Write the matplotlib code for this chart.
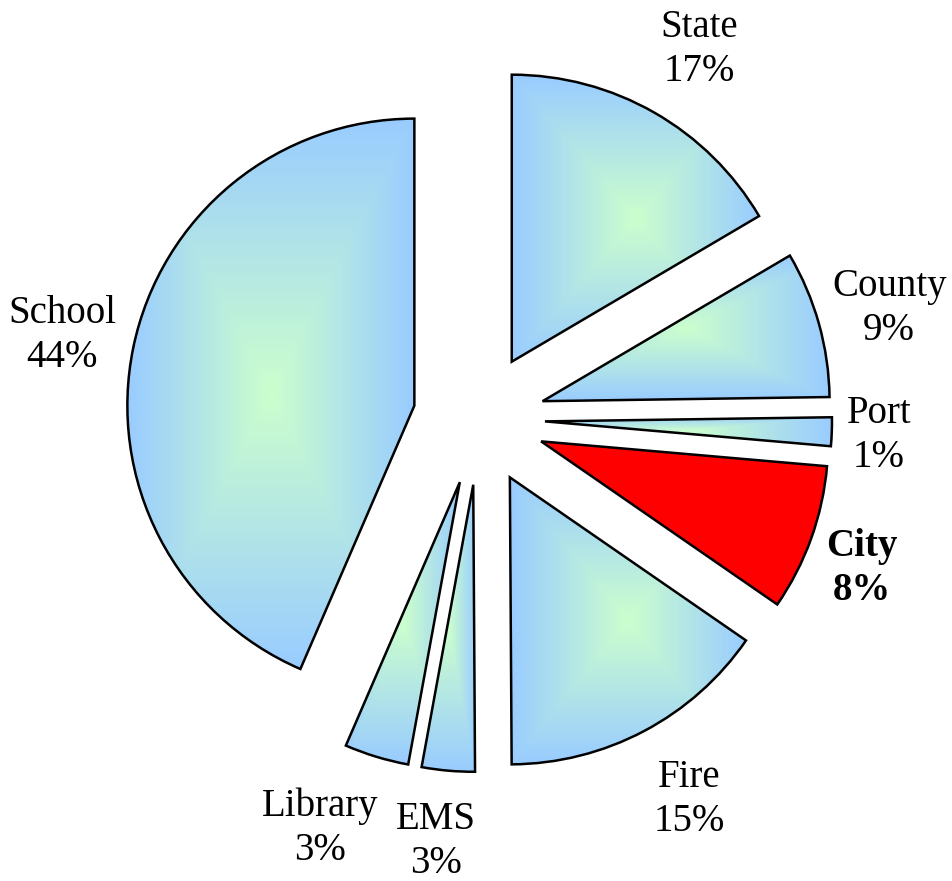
import numpy as np
import matplotlib
matplotlib.use("Agg")
import matplotlib.pyplot as plt
from matplotlib.colors import to_rgb

# ---- data ----
categories = ["State", "County", "Port", "City", "Fire", "EMS", "Library", "School"]
values = [16.53, 8.24, 1.61, 8.24, 15.28, 2.98, 3.62, 43.50]   # drawn slice shares
pct_labels = [17, 9, 1, 8, 15, 3, 3, 44]                         # printed percentages
highlight = "City"

# ---- layout / style ----
W, H = 953, 881
label_dist = [1.50, 1.48, 1.395, 1.43, 1.515, 1.48, 1.53, 1.48]
label_shift_deg = [-1.0, -0.6, -0.3, -1.5, 1.0, -0.8, -4.3, 0.4]
edge_blue = np.array(to_rgb("#99CCFF"))
center_green = np.array(to_rgb("#CCFFCC"))

fig = plt.figure(figsize=(W / 100, H / 100), dpi=100)
ax = fig.add_axes([0, 0, 1, 1])

R = 287
cx, cy = 479, H - 419
explode_frac = 0.23
wedges, _ = ax.pie(values, radius=R, center=(cx, cy), startangle=90,
                   counterclock=False,
                   explode=[explode_frac * R] * len(values),
                   wedgeprops=dict(edgecolor="black", linewidth=1.8),
                   frame=False)

total = sum(values)
cum = 0.0
for w, cat, v, p, ld, sh in zip(wedges, categories, values, pct_labels,
                                label_dist, label_shift_deg):
    w.set_zorder(3)
    if cat == highlight:
        w.set_facecolor("#FF0000")
    else:
        w.set_facecolor("none")
        ext = w.get_path().get_extents()
        n = 300
        u = np.linspace(-1, 1, n)
        U, V = np.meshgrid(u, u)
        t = np.maximum(np.abs(U), np.abs(V))[..., None]
        img = center_green * (1 - t) + edge_blue * t
        im = ax.imshow(img, extent=[ext.x0, ext.x1, ext.y0, ext.y1],
                       origin="lower", interpolation="bilinear", zorder=2)
        im.set_clip_path(w)
    theta = np.deg2rad(90 - (cum + v / 2) / total * 360 + sh)
    cum += v
    tx = cx + ld * R * np.cos(theta)
    ty = cy + ld * R * np.sin(theta)
    ax.text(tx, ty, f"{cat}\n{p}%", ha="center", va="center",
            fontsize=28, family="Liberation Serif", linespacing=1.25,
            fontweight="bold" if cat == highlight else "normal", zorder=5)

ax.set_xlim(0, W)
ax.set_ylim(0, H)
ax.set_aspect("equal")
ax.axis("off")
fig.savefig("out.png", dpi=100, facecolor="white")
